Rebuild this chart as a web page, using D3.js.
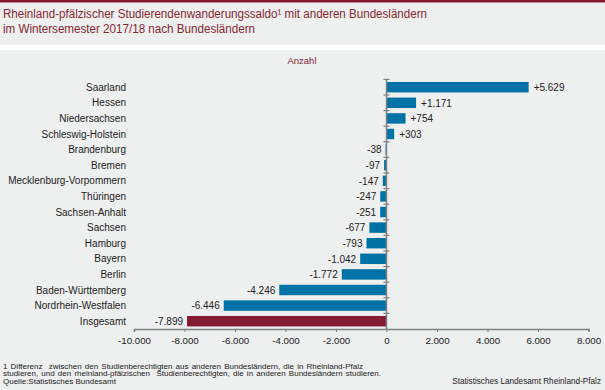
<!DOCTYPE html>
<html><head><meta charset="utf-8">
<script src="https://cdn.jsdelivr.net/npm/d3@7"></script>
<style>
html,body{margin:0;padding:0;background:#fff;}
svg{display:block;font-family:"Liberation Sans",Arial,sans-serif;}
</style></head>
<body>
<svg id="c" width="605" height="390"></svg>
<script>
const categories = ["Saarland","Hessen","Niedersachsen","Schleswig-Holstein","Brandenburg","Bremen","Mecklenburg-Vorpommern","Thüringen","Sachsen-Anhalt","Sachsen","Hamburg","Bayern","Berlin","Baden-Württemberg","Nordrhein-Westfalen","Insgesamt"];
const values = [5629,1171,754,303,-38,-97,-147,-247,-251,-677,-793,-1042,-1772,-4246,-6446,-7899];
const xTicks = [-10000,-8000,-6000,-4000,-2000,0,2000,4000,6000,8000];
const titleLines = ["Rheinland-pfälzischer Studierendenwanderungssaldo\u00B9 mit anderen Bundesländern","im Wintersemester 2017/18 nach Bundesländern"];
const unitLabel = "Anzahl";
const footLines = ["1 Differenz  zwischen den Studienberechtigten aus anderen Bundesländern, die in Rheinland-Pfalz","studieren, und den rheinland-pfälzischen  Studienberechtigten, die in anderen Bundesländern studieren.","Quelle:Statistisches Bundesamt"];
const sourceRight = "Statistisches Landesamt Rheinland-Pfalz";

const svg = d3.select("#c");
const bg = "#eeefef";
svg.append("rect").attr("x",0).attr("y",0).attr("width",605).attr("height",390).attr("fill","#ffffff");
svg.append("rect").attr("x",0).attr("y",2).attr("width",605).attr("height",43).attr("fill",bg);
svg.append("rect").attr("x",0).attr("y",0).attr("width",605).attr("height",2.5).attr("fill","#841b33");
svg.append("rect").attr("x",0).attr("y",50).attr("width",605).attr("height",340).attr("fill",bg);

const titleColor = "#862633";
const tl = [424, 252];
titleLines.forEach((t,i)=>{
  svg.append("text").attr("x",3).attr("y",18+i*14.5).attr("fill",titleColor)
    .attr("font-size",12).attr("textLength",tl[i]).attr("lengthAdjust","spacingAndGlyphs").text(t);
});
svg.append("text").attr("x",302).attr("y",63.5).attr("text-anchor","middle").attr("fill",titleColor)
  .attr("font-size",9.5).text(unitLabel);

const x = d3.scaleLinear().domain([-10000,8000]).range([134,588.5]);
const y = d3.scaleBand().domain(categories).range([79.4,329]).paddingInner(0.33).paddingOuter(0.165);
const fmt0 = d3.formatLocale({decimal:",",thousands:".",grouping:[3],currency:["","€"],minus:"-"}).format(",");
const fmt = v => fmt0(v).replace("\u2212","-");

const axisColor = "#808080";
// bars
svg.append("g").selectAll("rect").data(categories).join("rect")
  .attr("x",(d,i)=>x(Math.min(0,values[i])))
  .attr("y",d=>y(d))
  .attr("width",(d,i)=>Math.abs(x(values[i])-x(0)))
  .attr("height",y.bandwidth())
  .attr("fill",(d,i)=>d==="Insgesamt"?"#841b33":"#0072a5");

// x axis
const xa = svg.append("g").attr("transform","translate(0,329)")
  .call(d3.axisBottom(x).tickValues(xTicks).tickFormat(d=>fmt(d)).tickSize(3).tickSizeOuter(3));
xa.select(".domain").attr("stroke",axisColor).attr("stroke-width",1.5);
xa.selectAll(".tick line").attr("stroke",axisColor);
xa.selectAll(".tick text").attr("font-size",9.7).attr("fill","#222").attr("dy","0.95em").attr("font-family","\"Liberation Sans\",Arial,sans-serif");

// y axis line at zero with crossing ticks at band boundaries
const x0 = x(0);
const step = y.step();
const yb = d3.range(categories.length+1).map(i=>y.range()[0]+i*step);
svg.append("line").attr("x1",x0).attr("x2",x0).attr("y1",yb[0]).attr("y2",329).attr("stroke",axisColor).attr("stroke-width",1.5);
svg.append("g").selectAll("line").data(yb.slice(0,-1)).join("line")
  .attr("x1",x0-3).attr("x2",x0+3).attr("y1",d=>d).attr("y2",d=>d).attr("stroke",axisColor).attr("stroke-width",1.2);

// category labels
svg.append("g").selectAll("text").data(categories).join("text")
  .attr("x",126).attr("y",d=>y(d)+y.bandwidth()/2).attr("dy","0.35em")
  .attr("text-anchor","end").attr("font-size",10).attr("fill","#222").text(d=>d);

// value labels
svg.append("g").selectAll("text").data(categories).join("text")
  .attr("x",(d,i)=>values[i]>=0? x(values[i])+5 : x(values[i])-4)
  .attr("y",d=>y(d)+y.bandwidth()/2).attr("dy","0.38em")
  .attr("text-anchor",(d,i)=>values[i]>=0?"start":"end")
  .attr("font-size",10).attr("fill","#222")
  .text((d,i)=>(values[i]>0?"+":"")+fmt(values[i]));

// footnotes (first two lines slightly justified with word spacing)
const fl = [360, 378, null];
footLines.forEach((t,i)=>{
  const tx = svg.append("text").attr("x",3).attr("y",368.5+i*7.7).attr("font-size",8).attr("fill","#222")
    .style("white-space","pre").text(t);
  if (fl[i]) {
    const nat = tx.node().getComputedTextLength();
    const spaces = (t.match(/ /g)||[]).length;
    const ws = Math.max(0,(fl[i]-nat)/spaces);
    tx.attr("word-spacing", ws);
  }
});
svg.append("text").attr("x",601).attr("y",383.9).attr("text-anchor","end").attr("font-size",8.2).attr("fill","#222")
  .text(sourceRight);
</script>
</body></html>
